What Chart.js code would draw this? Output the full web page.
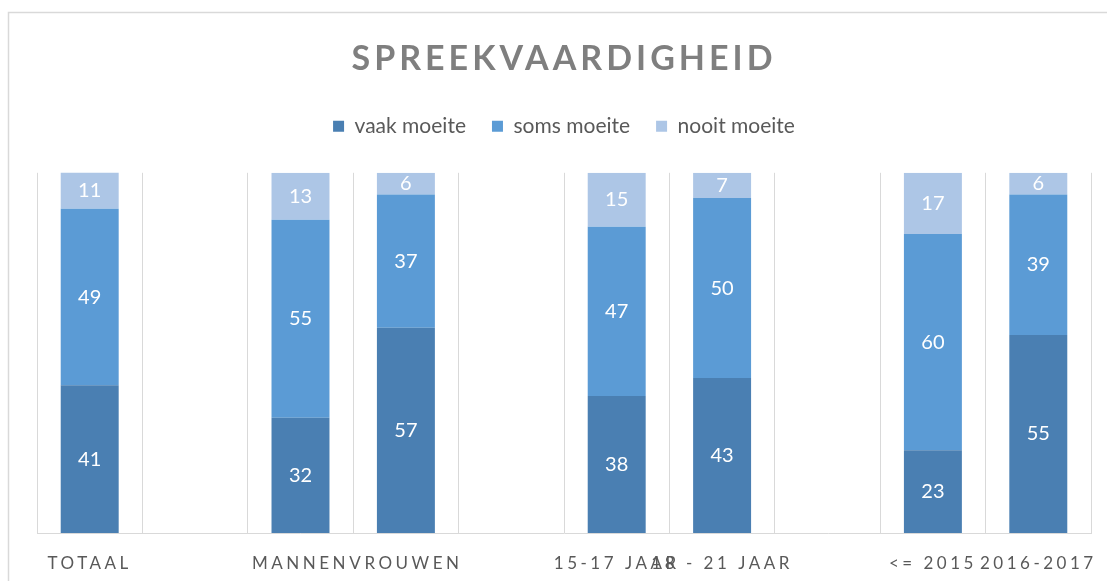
<!DOCTYPE html>
<html lang="nl">
<head>
  <meta charset="UTF-8" />
  <title>Spreekvaardigheid</title>
  <style>
    html, body { margin: 0; padding: 0; background: #fff; overflow: hidden; }
    canvas { display: block; }
  </style>
</head>
<body>
  <canvas id="chart" width="1107" height="581"></canvas>
  <script src="https://cdn.jsdelivr.net/npm/chart.js"></script>
  <script>
    // categories (empty ones are the gaps between groups)
    const categories = ['TOTAAL', '', 'MANNEN', 'VROUWEN', '', '15-17 JAAR', '18 - 21 JAAR', '', '<= 2015', '2016-2017'];
    const vaakMoeite  = [41, null, 32, 57, null, 38, 43, null, 23, 55];
    const somsMoeite  = [49, null, 55, 37, null, 47, 50, null, 60, 39];
    const nooitMoeite = [11, null, 13, 6, null, 15, 7, null, 17, 6];

    const FONT = 'Lato, "Open Sans", sans-serif';

    // letter spacing for the title and the category labels, extra room under the legend
    const spacing = {
      id: 'spacing',
      beforeLayout(chart) {
        const lg = chart.legend;
        if (lg && !lg._padded) {
          const f = lg.fit.bind(lg);
          lg.fit = function () { f(); this.height += 26; };
          lg._padded = true;
        }
      },
      beforeDraw(chart) {
        const ctx = chart.ctx;
        const sc = chart.scales.x;
        if (!sc._spaced) {
          const orig = sc.drawLabels.bind(sc);
          sc.drawLabels = function (area) {
            ctx.save(); ctx.letterSpacing = '3.5px'; orig(area); ctx.restore();
          };
          sc._spaced = true;
        }
        const tb = chart.titleBlock;
        if (tb && !tb._spaced) {
          const origT = tb.draw.bind(tb);
          tb.draw = function () {
            ctx.save(); ctx.letterSpacing = '4px'; origT(); ctx.restore();
          };
          tb._spaced = true;
        }
        // chart frame
        ctx.save();
        ctx.strokeStyle = '#d9d9d9';
        ctx.lineWidth = 1.5;
        ctx.strokeRect(8.5, 12.5, 1200, 700);
        ctx.restore();
      }
    };

    // values inside the segments
    const valueLabels = {
      id: 'valueLabels',
      afterDatasetsDraw(chart) {
        const ctx = chart.ctx;
        const area = chart.chartArea;
        ctx.save();
        ctx.font = '20px ' + FONT;
        ctx.fillStyle = '#ffffff';
        ctx.textAlign = 'center';
        ctx.textBaseline = 'middle';
        chart.data.datasets.forEach((ds, i) => {
          chart.getDatasetMeta(i).data.forEach((bar, j) => {
            const v = ds.data[j];
            if (v == null) return;
            const top = Math.max(bar.y, area.top);
            ctx.fillText(v, bar.x, (top + bar.base) / 2);
          });
        });
        ctx.restore();
      }
    };

    new Chart(document.getElementById('chart'), {
      type: 'bar',
      data: {
        labels: categories,
        datasets: [
          { label: 'vaak moeite', data: vaakMoeite, backgroundColor: '#4a7fb2' },
          { label: 'soms moeite', data: somsMoeite, backgroundColor: '#5b9bd5' },
          { label: 'nooit moeite', data: nooitMoeite, backgroundColor: '#adc6e6' }
        ]
      },
      options: {
        responsive: false,
        animation: false,
        layout: { padding: { left: 37, right: 16, top: 35, bottom: 0 } },
        datasets: { bar: { categoryPercentage: 1, barPercentage: 0.55 } },
        plugins: {
          title: {
            display: true,
            text: 'SPREEKVAARDIGHEID',
            color: '#7f7f7f',
            font: { family: FONT, size: 34, weight: 'bold' },
            padding: { top: 4, bottom: 10 }
          },
          legend: {
            position: 'top',
            labels: {
              color: '#595959',
              font: { family: FONT, size: 21 },
              boxWidth: 11,
              boxHeight: 11,
              padding: 26
            }
          },
          tooltip: { enabled: false }
        },
        scales: {
          x: {
            stacked: true,
            grid: { color: '#d9d9d9', drawTicks: false, offset: true },
            border: { color: '#d9d9d9' },
            ticks: {
              color: '#595959',
              font: { family: FONT, size: 17 },
              padding: 20,
              autoSkip: false,
              maxRotation: 0,
              minRotation: 0
            },
            afterFit(scale) { scale.height = 48; }
          },
          y: {
            stacked: true,
            display: false,
            min: 0,
            max: 100
          }
        }
      },
      plugins: [spacing, valueLabels]
    });
  </script>
</body>
</html>
